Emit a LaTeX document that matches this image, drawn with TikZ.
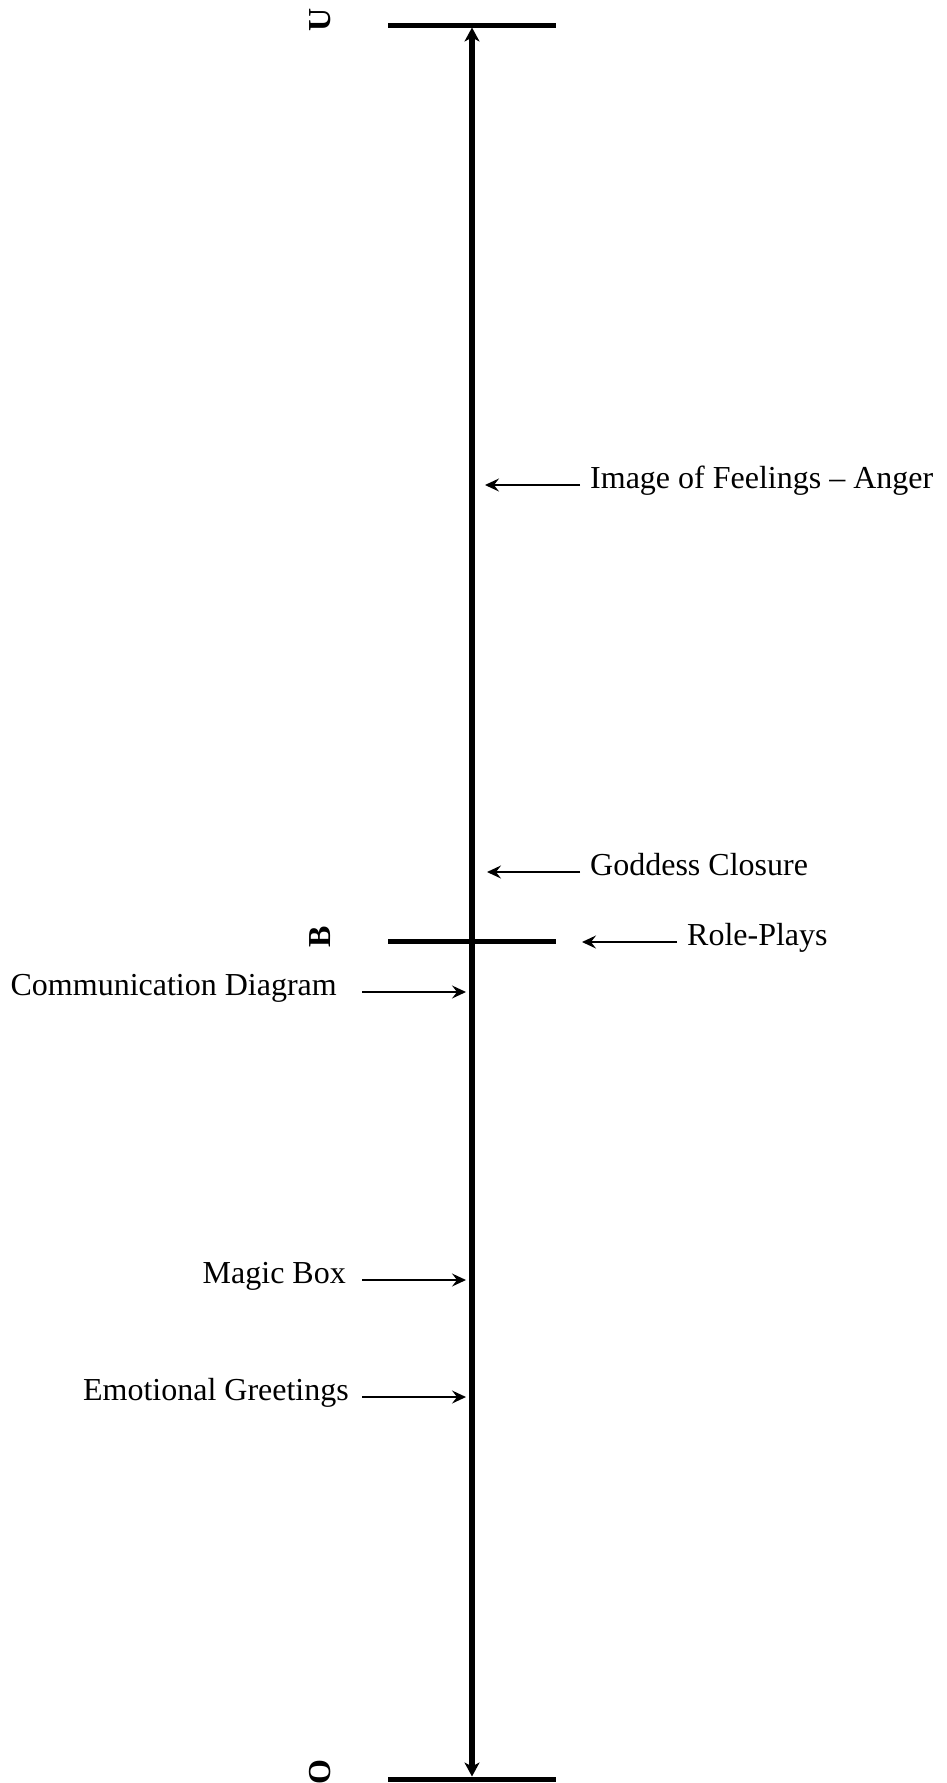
\documentclass[tikz,border=0pt]{standalone}
\usepackage{fontspec}
\setmainfont{Liberation Serif}
\usetikzlibrary{arrows,arrows.meta}
\tikzstyle{bar}=[draw,line width=5pt]
\tikzstyle{axis}=[draw,line width=5.5pt,<->,>={Stealth[length=14pt,width=15pt,inset=4pt]}]
\tikzstyle{pointer}=[draw,line width=1.5pt,->,>={Stealth[length=14pt,width=13pt,inset=5pt]}]
\tikzstyle{level}=[font=\fontsize{32}{38}\selectfont\bfseries,rotate=90,inner sep=0pt]
\tikzstyle{tag}=[font=\fontsize{32}{38}\selectfont,text height=6pt,text depth=0pt,inner ysep=0pt]

\begin{document}
\begin{tikzpicture}[x=1pt,y=-1pt]
	\useasboundingbox (0,0) rectangle (946,1783);
	% First we draw the three levels and their letters
	\foreach \y/\ly/\name in {25/20/U, 941/937/B, 1779/1772/O}{
		\coordinate (\name) at (472,\y);
		\path[bar] ([xshift=-84pt]\name) -- ([xshift=84pt]\name);
		\node[level] (\name lbl) at (320,\ly) {\name};
	}

	% The axis runs between the outer levels
	\path[axis] ([yshift=2.5pt]O) -- ([yshift=-2.5pt]U);

	% Activities pointing in from the left
	\foreach \y/\gap/\name/\text in {992/25pt/comm/Communication Diagram, 1280/16pt/magic/Magic Box, 1397/13pt/greet/Emotional Greetings}{
		\node[tag,anchor=east,inner xsep=\gap] (\name) at (362,\y) {\text};
		\coordinate (\name in) at (466,\y);
		\path[pointer] (\name) -- (\name in);
	}

	% Activities pointing in from the right
	\foreach \x/\tip/\y/\name/\text in {580/485/485/anger/Image of Feelings -- Anger, 580/487/872/closure/Goddess Closure, 677/582/942/role/Role-Plays}{
		\node[tag,anchor=west,inner xsep=10pt] (\name) at (\x,\y) {\text};
		\coordinate (\name in) at (\tip,\y);
		\path[pointer] (\name) -- (\name in);
	}
\end{tikzpicture}
\end{document}
